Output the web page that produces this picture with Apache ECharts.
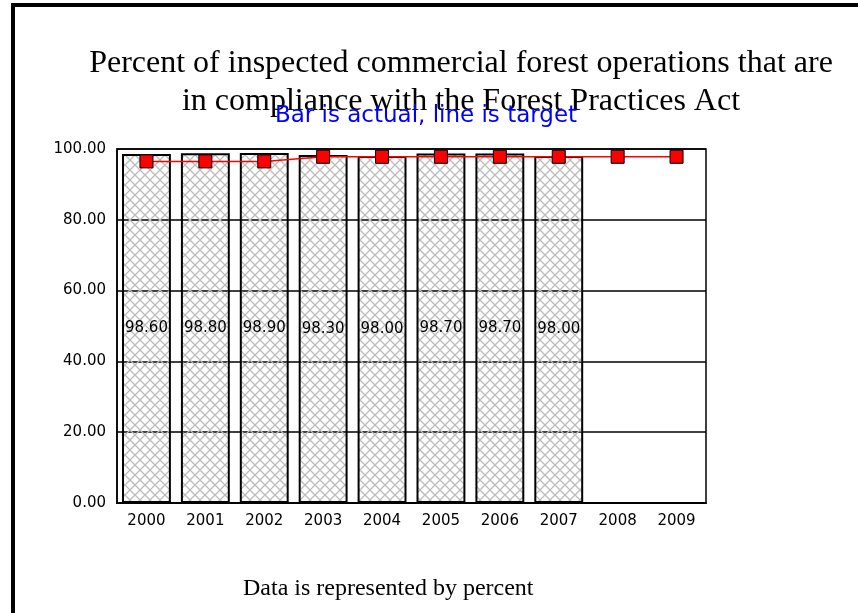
<!DOCTYPE html>
<html>
<head>
<meta charset="utf-8">
<script src="https://cdn.jsdelivr.net/npm/echarts@6/dist/echarts.min.js"></script>
<style>
html, body { margin: 0; padding: 0; background: #fff; }
#main { width: 858px; height: 613px; }
</style>
</head>
<body>
<div id="main"></div>
<script>
// chart data
var years = ['2000', '2001', '2002', '2003', '2004', '2005', '2006', '2007', '2008', '2009'];
var actual = [98.6, 98.8, 98.9, 98.3, 98.0, 98.7, 98.7, 98.0, null, null];
var target = [96.5, 96.5, 96.5, 97.8, 97.8, 97.8, 97.8, 97.8, 97.8, 97.8];
var yTicks = [0, 20, 40, 60, 80, 100];

// grey cross hatch like the old bitmap chart
function makeHatch() {
    var c = document.createElement('canvas');
    c.width = 10;
    c.height = 10;
    var ctx = c.getContext('2d');
    ctx.strokeStyle = '#bcbcbc';
    ctx.lineWidth = 1.3;
    ctx.beginPath();
    ctx.moveTo(0, 0); ctx.lineTo(10, 10);
    ctx.moveTo(10, 0); ctx.lineTo(0, 10);
    ctx.stroke();
    return c;
}

var myChart = echarts.init(document.getElementById('main'));
var option = {
    backgroundColor: '#fff',
    animation: false,
    title: [{
        text: 'Percent of inspected commercial forest operations that are\nin compliance with the Forest Practices Act',
        left: 456,
        top: 40,
        textAlign: 'center',
        textStyle: {
            fontFamily: 'Liberation Serif',
            fontWeight: 'normal',
            fontSize: 32,
            lineHeight: 38,
            color: '#000'
        }
    }, {
        text: 'Bar is actual, line is target',
        left: 421,
        top: 100,
        textAlign: 'center',
        textStyle: {
            fontFamily: 'DejaVu Sans',
            fontWeight: 'normal',
            fontSize: 23,
            color: '#0000ff'
        }
    }, {
        text: 'Data is represented by percent',
        left: 238,
        top: 572,
        textStyle: {
            fontFamily: 'Liberation Serif',
            fontWeight: 'normal',
            fontSize: 24,
            color: '#000'
        }
    }],
    graphic: [{
        type: 'rect',
        shape: { x: 13, y: 5, width: 900, height: 700 },
        style: { fill: 'none', stroke: '#000', lineWidth: 4 },
        silent: true
    }],
    grid: {
        left: 117,
        right: 152,
        top: 149,
        bottom: 110,
        show: true,
        borderColor: '#000',
        borderWidth: 1.5
    },
    xAxis: {
        type: 'category',
        data: years,
        axisTick: { show: false },
        axisLine: { lineStyle: { color: '#000', width: 2 } },
        axisLabel: {
            margin: 11,
            fontFamily: 'DejaVu Sans',
            fontSize: 15,
            color: '#000'
        }
    },
    yAxis: {
        type: 'value',
        min: yTicks[0],
        max: yTicks[yTicks.length - 1],
        interval: 20,
        axisTick: { show: false },
        axisLine: { show: true, lineStyle: { color: '#000', width: 1.5 } },
        splitLine: { lineStyle: { color: '#000', width: 1.5 } },
        axisLabel: {
            margin: 11,
            fontFamily: 'DejaVu Sans',
            fontSize: 15,
            color: '#000',
            formatter: function(v) { return v.toFixed(2); }
        }
    },
    series: [{
        name: 'actual',
        type: 'bar',
        data: actual,
        barCategoryGap: '17%',
        itemStyle: {
            color: { image: makeHatch(), repeat: 'repeat' },
            borderColor: '#000',
            borderWidth: 2
        },
        label: {
            show: true,
            position: 'inside',
            fontFamily: 'DejaVu Sans',
            fontSize: 15,
            color: '#000',
            formatter: function(p) { return p.value.toFixed(2); }
        }
    }, {
        name: 'target',
        type: 'line',
        data: target,
        symbol: 'rect',
        symbolSize: 13,
        lineStyle: { color: '#ff0000', width: 1.5 },
        itemStyle: { color: '#ff0000', borderColor: '#000', borderWidth: 1 },
        z: 5
    }]
};
myChart.setOption(option);
</script>
</body>
</html>
